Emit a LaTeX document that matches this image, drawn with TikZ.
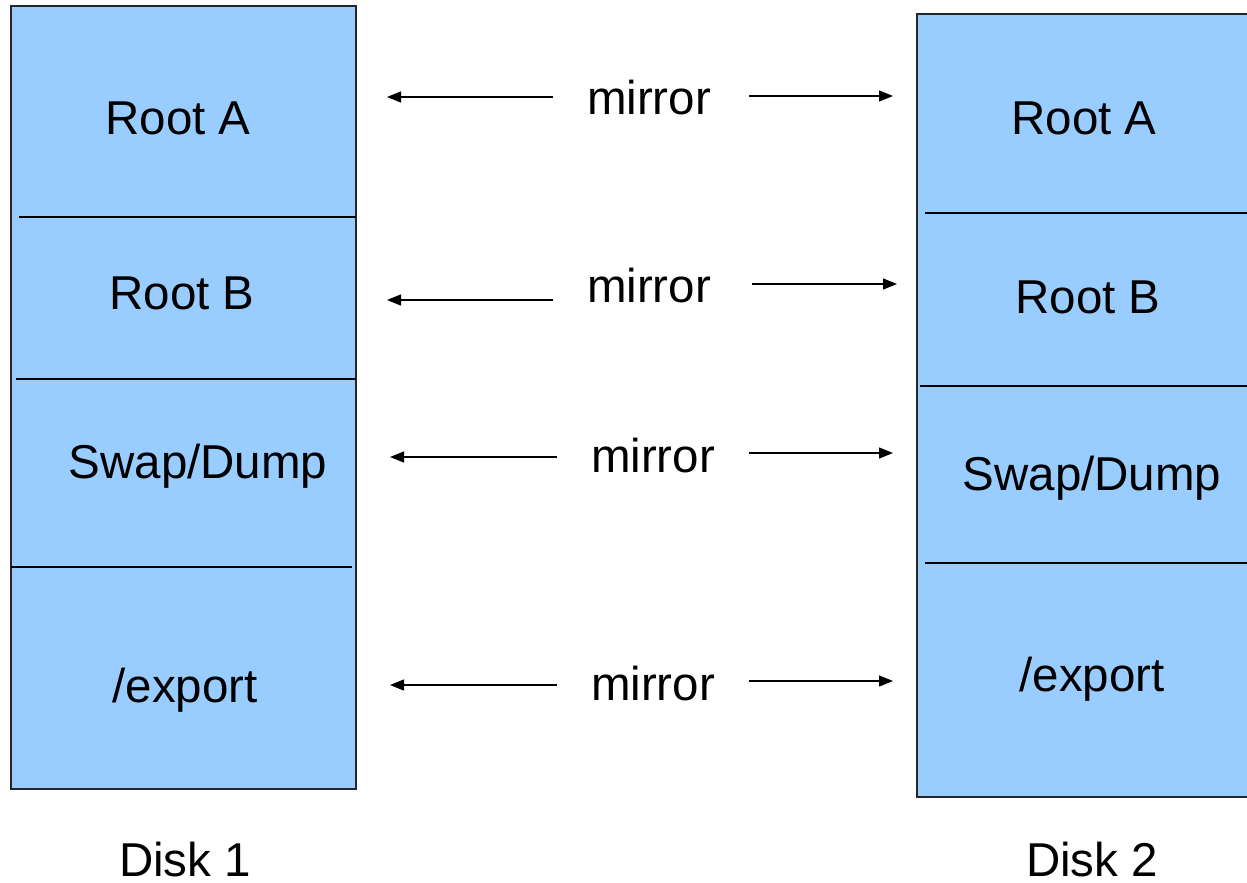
\documentclass[tikz,border=0pt]{standalone}
\usepackage{fontspec}
\setmainfont{Liberation Sans}
\usetikzlibrary{arrows.meta}
\definecolor{diskblue}{HTML}{99CCFF}
\begin{document}
\begin{tikzpicture}[x=1pt,y=-1pt,
  disk/.style={fill=diskblue,draw=black!85,line width=1.6pt},
  divider/.style={draw=black,line width=1.6pt},
  lbl/.style={font=\fontsize{47.5}{56}\selectfont,inner sep=0pt,anchor=base},
  mirr/.style={-{Triangle[length=14pt,width=11pt]},line width=1.3pt}]
\clip (0,0) rectangle (1247,883);
\fill[white] (0,0) rectangle (1247,883);
% Disk 1
\draw[disk] (11,6) rectangle (356,789);
\draw[divider] (19,217) -- (356,217);
\draw[divider] (16,379) -- (356,379);
\draw[divider] (11,567) -- (352,567);
% Disk 2
\draw[disk] (917,14) rectangle (1265,797);
\draw[divider] (925,213) -- (1265,213);
\draw[divider] (920,386) -- (1265,386);
\draw[divider] (925,563) -- (1265,563);
% labels disk 1
\node[lbl] (a1) at (178,134) {Root A};
\node[lbl] (b1) at (182,309) {Root B};
\node[lbl] (s1) at (198,478) {Swap/Dump};
\node[lbl] (e1) at (185,702) {/export};
\node[lbl] (d1) at (185,876) {Disk 1};
% labels disk 2
\node[lbl] (a2) at (1084,134) {Root A};
\node[lbl] (b2) at (1088,313) {Root B};
\node[lbl] (s2) at (1092,490) {Swap/Dump};
\node[lbl] (e2) at (1092,691) {/export};
\node[lbl] (d2) at (1092,876) {Disk 2};
% mirror labels
\node[lbl] (m1) at (649,114) {mirror};
\node[lbl] (m2) at (649,302) {mirror};
\node[lbl] (m3) at (653,472) {mirror};
\node[lbl] (m4) at (653,700) {mirror};
% arrow endpoints
\coordinate (m1l) at (553,97);  \coordinate (m1la) at (387,97);
\coordinate (m1r) at (749,96);  \coordinate (m1ra) at (893,96);
\coordinate (m2l) at (553,300); \coordinate (m2la) at (387,300);
\coordinate (m2r) at (752,284); \coordinate (m2ra) at (897,284);
\coordinate (m3l) at (557,457); \coordinate (m3la) at (390,457);
\coordinate (m3r) at (749,453); \coordinate (m3ra) at (893,453);
\coordinate (m4l) at (557,685); \coordinate (m4la) at (390,685);
\coordinate (m4r) at (749,681); \coordinate (m4ra) at (893,681);
\draw[mirr] (m1l) -- (m1la);
\draw[mirr] (m1r) -- (m1ra);
\draw[mirr] (m2l) -- (m2la);
\draw[mirr] (m2r) -- (m2ra);
\draw[mirr] (m3l) -- (m3la);
\draw[mirr] (m3r) -- (m3ra);
\draw[mirr] (m4l) -- (m4la);
\draw[mirr] (m4r) -- (m4ra);
\end{tikzpicture}
\end{document}
